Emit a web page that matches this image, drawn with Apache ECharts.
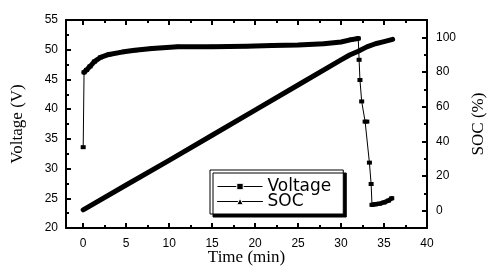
<!DOCTYPE html>
<html>
<head>
<meta charset="utf-8">
<script src="https://cdn.jsdelivr.net/npm/echarts@6/dist/echarts.min.js"></script>
<style>
  html, body { margin: 0; padding: 0; background: #fff; }
  #chart { width: 493px; height: 270px; }
</style>
</head>
<body>
<div id="chart"></div>
<script>
// voltage curve (time in min, voltage in V)
const voltTime = [0, 0.1, 0.4, 0.8, 1.3, 2.0, 3.0, 4.5, 6, 8, 11, 15, 19, 22, 25, 28, 30, 31.2, 32.0,
  32.1, 32.2, 32.4, 32.8, 33.0, 33.3, 33.5, 33.6, 34.0, 34.5, 35.0, 35.5, 35.9]
const voltValue = [33.6, 46.2, 46.6, 47.2, 48.0, 48.7, 49.2, 49.6, 49.9, 50.2, 50.5, 50.5, 50.6, 50.7, 50.8, 51.0, 51.3, 51.7, 51.9,
  48.3, 44.9, 41.3, 37.9, 37.9, 31.0, 27.4, 23.9, 24.0, 24.1, 24.3, 24.6, 25.0]
// state of charge (%)
const socTime = [0, 5, 10, 15, 20, 25, 30, 31, 32, 33, 34, 35, 36]
const socValue = [0.5, 14.8, 29, 43.5, 58, 72.5, 87, 89.8, 92, 94.5, 96.3, 97.5, 98.8]

// tick slots along the time axis, -2 .. 40 every 0.5 min
const xSlots = Array.from({ length: 85 }, (_, i) => -2 + i * 0.5)
// tick slots along the SOC axis, -10 .. 110 every 10 %
const socSlots = [-10, 0, 10, 20, 30, 40, 50, 60, 70, 80, 90, 100, 110]

const pairs = (xs, ys) => xs.map((x, i) => [x, ys[i]])
const volt = pairs(voltTime, voltValue)
const soc = pairs(socTime, socValue)

const isInt = (v) => Math.abs(v - Math.round(v)) < 1e-6
const isMajorX = (t) => t >= 0 && isInt(t / 5)
const isMinorX = (t) => t >= 0 && isInt(t / 2.5) && !isInt(t / 5)
const isMajorSoc = (v) => v >= 0 && v <= 100 && isInt(v / 20)

const tickFont = () => ({ fontFamily: 'Liberation Sans, Arial', fontSize: 12, color: '#000' })
const titleFont = () => ({ fontFamily: 'Liberation Serif, Times New Roman', fontSize: 17, color: '#000' })
const axisLine = (show) => ({ show: show, onZero: false, lineStyle: { color: '#000', width: 2 } })
const tick = (len, interval) => {
  const t = { show: true, inside: true, length: len, lineStyle: { color: '#000', width: 2 } }
  if (interval) t.interval = interval
  return t
}

// category helper axis that only carries ticks
function slotAxis(pos, slots, len, keep) {
  return {
    type: 'category', position: pos, data: slots.map(String), boundaryGap: false,
    axisLine: axisLine(pos === 'top'),
    axisTick: tick(len, (i) => keep(slots[i])),
    axisLabel: { show: false },
    splitLine: { show: false }
  }
}

const chart = echarts.init(document.getElementById('chart'))
chart.setOption({
  animation: false,
  grid: { left: 66, right: 66, top: 20, bottom: 42, outerBoundsMode: 'none' },
  legend: {
    data: ['Voltage', 'SOC'],
    orient: 'vertical',
    left: 210, top: 170,
    padding: [8, 12, 4, 7],
    itemGap: -2,
    itemWidth: 45, itemHeight: 8,
    backgroundColor: '#fff',
    borderColor: '#000', borderWidth: 1,
    shadowColor: '#000', shadowBlur: 0, shadowOffsetX: 3, shadowOffsetY: 3,
    lineStyle: { width: 1, color: '#000' },
    itemStyle: { color: '#000', borderColor: '#fff', borderWidth: 1 },
    textStyle: { fontFamily: 'DejaVu Sans', fontSize: 17, color: '#000', lineHeight: 13 }
  },
  xAxis: [
    {
      type: 'value', position: 'bottom', min: -2, max: 40, interval: 1,
      name: 'Time (min)', nameLocation: 'middle', nameGap: 21, nameMoveOverlap: false,
      nameTextStyle: titleFont(),
      axisLine: axisLine(true),
      axisTick: { show: false },
      axisLabel: Object.assign({
        margin: 10,
        formatter: (v) => (isMajorX(v) ? String(Math.round(v)) : '')
      }, tickFont()),
      splitLine: { show: false }
    },
    slotAxis('bottom', xSlots, 5, isMajorX),
    slotAxis('bottom', xSlots, 3, isMinorX),
    slotAxis('top', xSlots, 5, isMajorX),
    slotAxis('top', xSlots, 3, isMinorX)
  ],
  yAxis: [
    {
      type: 'value', position: 'left', min: 20, max: 55, interval: 5,
      name: 'Voltage (V)', nameLocation: 'middle', nameGap: 40, nameMoveOverlap: false,
      nameTextStyle: titleFont(),
      axisLine: axisLine(true),
      axisTick: tick(5),
      axisLabel: Object.assign({ margin: 8 }, tickFont()),
      splitLine: { show: false }
    },
    {
      type: 'value', position: 'right', min: -10, max: 110, interval: 10,
      name: 'SOC (%)', nameLocation: 'middle', nameGap: 43, nameRotate: 90, nameMoveOverlap: false,
      nameTextStyle: titleFont(),
      axisLine: axisLine(true),
      axisTick: tick(3),
      axisLabel: Object.assign({
        margin: 9,
        formatter: (v) => (isMajorSoc(v) ? String(Math.round(v)) : '')
      }, tickFont()),
      splitLine: { show: false }
    },
    {
      type: 'value', position: 'left', min: 20, max: 55, interval: 2.5,
      axisLine: axisLine(false),
      axisTick: tick(3),
      axisLabel: { show: false },
      splitLine: { show: false }
    },
    slotAxis('right', socSlots, 5, isMajorSoc)
  ],
  series: [
    {
      // dense markers of the charging part read as a thick band
      type: 'line', xAxisIndex: 0, yAxisIndex: 0,
      data: volt.slice(1, 19), symbol: 'none', silent: true,
      lineStyle: { color: '#000', width: 5, cap: 'round', join: 'round' }, z: 2
    },
    {
      type: 'line', xAxisIndex: 0, yAxisIndex: 0,
      data: volt.slice(26), symbol: 'none', silent: true,
      lineStyle: { color: '#000', width: 4.5, cap: 'round', join: 'round' }, z: 2
    },
    {
      name: 'Voltage', type: 'line', xAxisIndex: 0, yAxisIndex: 0,
      data: volt, symbol: 'rect', symbolSize: [5, 4],
      itemStyle: { color: '#000' },
      lineStyle: { color: '#000', width: 1 }, z: 3
    },
    {
      name: 'SOC', type: 'line', xAxisIndex: 0, yAxisIndex: 1,
      data: soc, symbol: 'triangle', showSymbol: false,
      itemStyle: { color: '#000' },
      lineStyle: { color: '#000', width: 5, cap: 'round', join: 'round' }, z: 2
    }
  ]
})
</script>
</body>
</html>
